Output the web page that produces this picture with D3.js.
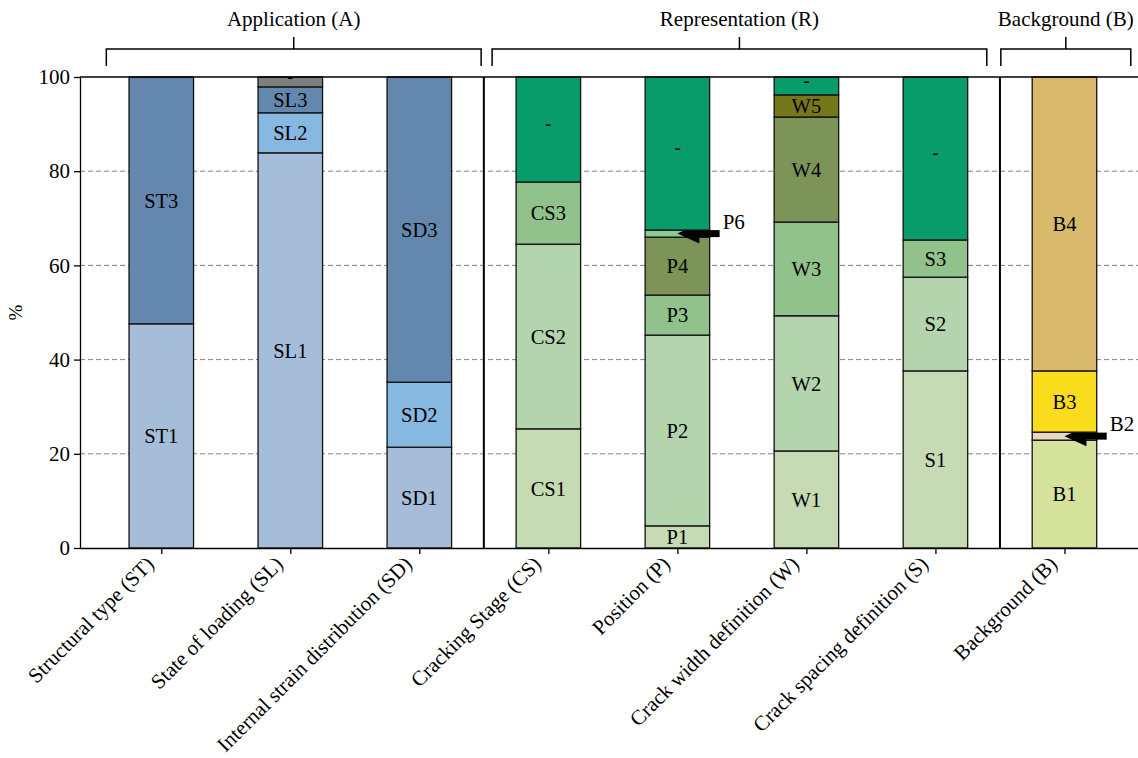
<!DOCTYPE html>
<html><head><meta charset="utf-8">
<script src="https://cdn.jsdelivr.net/npm/d3@7"></script>
<style>body{margin:0;background:#fff}svg{display:block}text{font-family:"Liberation Serif","Times New Roman",serif}</style>
</head><body><svg id="c" width="1138" height="758"></svg>
<script>
const categories = ["Structural type (ST)","State of loading (SL)","Internal strain distribution (SD)","Cracking Stage (CS)","Position (P)","Crack width definition (W)","Crack spacing definition (S)","Background (B)"];
const segLabels = [
  ["ST1","ST3"],
  ["SL1","SL2","SL3","-"],
  ["SD1","SD2","SD3"],
  ["CS1","CS2","CS3","-"],
  ["P1","P2","P3","P4","P6","-"],
  ["W1","W2","W3","W4","W5","-"],
  ["S1","S2","S3","-"],
  ["B1","B2","B3","B4"]
];
const segValues = [
  [47.6,52.4],
  [83.9,8.5,5.5,2.1],
  [21.4,13.8,64.8],
  [25.3,39.2,13.2,22.3],
  [4.7,40.5,8.5,12.3,1.5,32.5],
  [20.6,28.7,19.9,22.3,4.7,3.8],
  [37.6,19.9,7.9,34.6],
  [22.9,1.7,13.0,62.4]
];
const segColors = [
  ["#a6bdd9","#6488ad"],
  ["#a6bdd9","#87b8df","#6488ad","#7f7f7f"],
  ["#a6bdd9","#87b8df","#6488ad"],
  ["#c6dbb3","#b3d4ad","#91c28b","#079c69"],
  ["#c6dbb3","#b3d4ad","#91c28b","#7d9459","#88cc92","#079c69"],
  ["#c6dbb3","#b3d4ad","#91c28b","#7d9459","#767719","#079c69"],
  ["#c6dbb3","#b3d4ad","#91c28b","#079c69"],
  ["#d6e39d","#e6d8c3","#f9dc1c","#d9b96c"]
];
const arrowLabels = ["P6","B2"];
const groupNames = ["Application (A)","Representation (R)","Background (B)"];
const groupSpans = [[-0.426, 2.479],[2.564, 6.398],[6.507, 7.514]];
const separators = [2.5, 6.5];
const yTicks = [0,20,40,60,80,100];

const svg = d3.select("#c");
const L = 80, R = 1138, T = 77, B = 548;
const x = d3.scaleLinear().domain([-0.63, 7.57]).range([L, R]);
const y = d3.scaleLinear().domain([0, 100]).range([B, T]);
const bw = x(0.25) - x(-0.25);
const FS = 21;

// gridlines
svg.append("g").selectAll("line").data(yTicks.filter(d => d > 0 && d < 100)).join("line")
  .attr("x1", L).attr("x2", R).attr("y1", d => y(d)).attr("y2", d => y(d))
  .attr("stroke", "#808080").attr("stroke-width", 1).attr("stroke-dasharray", "5,3");

// bars
categories.forEach((c, i) => {
  let acc = 0;
  segValues[i].forEach((v, j) => {
    const y0 = acc, y1 = acc + v; acc = y1;
    svg.append("rect").attr("x", x(i) - bw/2).attr("width", bw)
      .attr("y", y(y1)).attr("height", y(y0) - y(y1))
      .attr("fill", segColors[i][j]).attr("stroke", "#111").attr("stroke-width", 1.3);
    const lab = segLabels[i][j];
    if (arrowLabels.includes(lab)) {
      const ym = y((y0 + y1) / 2);
      const tip = x(i);
      const tail = x(i) + bw/2 + 10;
      const g = svg.append("g");
      g.append("rect").attr("x", tip + 18).attr("y", ym - 3.5).attr("width", tail - tip - 18).attr("height", 7).attr("fill", "#000");
      g.append("path").attr("d", `M${tip},${ym} L${tip+22},${ym-10} L${tip+22},${ym+10} Z`).attr("fill", "#000");
      svg.append("text").attr("x", tail + 3).attr("y", ym - 5).attr("font-size", FS).text(lab);
    } else {
      svg.append("text").attr("x", x(i)).attr("y", y((y0 + y1) / 2)).attr("dy", lab === "-" ? "0.05em" : "0.35em")
        .attr("text-anchor", "middle").attr("font-size", lab === "-" ? 18 : 20.5).attr("font-weight", lab === "-" ? "bold" : "normal").text(lab);
    }
  });
});

// separators
svg.append("g").selectAll("line").data(separators).join("line")
  .attr("x1", d => x(d)).attr("x2", d => x(d)).attr("y1", T).attr("y2", B)
  .attr("stroke", "#000").attr("stroke-width", 2);

// top spine
svg.append("line").attr("x1", L).attr("x2", R).attr("y1", T).attr("y2", T).attr("stroke", "#000").attr("stroke-width", 1.3);

// axes
const yAxis = d3.axisLeft(y).tickValues(yTicks).tickSize(6).tickSizeOuter(0);
const ya = svg.append("g").attr("transform", `translate(${L},0)`).call(yAxis);
ya.selectAll("text").attr("font-size", FS).attr("fill", "#000").attr("dx", "-0.05em");
ya.select(".domain").attr("stroke", "#000").attr("stroke-width", 1.3);
ya.selectAll(".tick line").attr("stroke", "#000").attr("stroke-width", 1.3);

const xAxis = d3.axisBottom(x).tickValues(d3.range(categories.length)).tickFormat(i => categories[i]).tickSize(6).tickSizeOuter(0);
const xa = svg.append("g").attr("transform", `translate(0,${B})`).call(xAxis);
xa.select(".domain").attr("d", `M${L},0.5H${R}`).attr("stroke", "#000").attr("stroke-width", 1.3);
xa.selectAll(".tick line").attr("stroke", "#000").attr("stroke-width", 1.3);
xa.selectAll("text").attr("font-size", FS).attr("fill", "#000")
  .attr("text-anchor", "end").attr("transform", "translate(-17,7) rotate(-45)").attr("dy", "0.7em").attr("y", 0).attr("x", 0);

svg.append("text").attr("transform", `translate(22,${(T+B)/2}) rotate(-90)`).attr("text-anchor", "middle").attr("font-size", 19).text("%");

// group brackets
groupNames.forEach((name, k) => {
  const gx0 = x(groupSpans[k][0]), gx1 = x(groupSpans[k][1]), xm = (gx0 + gx1) / 2;
  svg.append("path").attr("d", `M${gx0},66 V49 H${gx1} V66 M${xm},49 V37`)
    .attr("fill", "none").attr("stroke", "#000").attr("stroke-width", 1.5);
  svg.append("text").attr("x", xm).attr("y", 26).attr("text-anchor", "middle").attr("font-size", FS).text(name);
});
</script></body></html>
